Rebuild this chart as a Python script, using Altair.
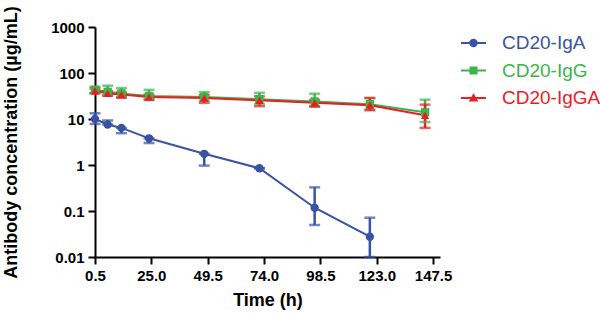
import altair as alt
import pandas as pd

series = ["CD20-IgA", "CD20-IgG", "CD20-IgGA"]
colors = ["#3953A4", "#3AB54A", "#ED1C24"]
marker_shapes = ["circle", "square", "triangle-up"]
legend_paths = [
    "M-2.5,-0.2H2.5V0.2H-2.5Z M0.85,0A0.85,0.85,0,1,1,-0.85,0A0.85,0.85,0,1,1,0.85,0Z",
    "M-2.5,-0.2H2.5V0.2H-2.5Z M-0.8,-0.8H0.8V0.8H-0.8Z",
    "M-2.5,-0.2H2.5V0.2H-2.5Z M0,-0.95L0.95,0.7H-0.95Z",
]

x_ticks = [0.5, 25.0, 49.5, 74.0, 98.5, 123.0, 147.5]
y_ticks = [0.01, 0.1, 1, 10, 100, 1000]

iga_time = [0.5, 6, 12, 24, 48, 72, 96, 120]
iga_mean = [10.0, 7.6, 6.4, 3.8, 1.75, 0.85, 0.118, 0.0276]
iga_lo = [7.8, 7.6, 4.9, 3.0, 0.97, 0.85, 0.0497, 0.01]
iga_hi = [13.3, 9.3, 6.4, 3.8, 1.75, 0.85, 0.327, 0.0715]

igg_time = [0.5, 6, 12, 24, 48, 72, 96, 120, 144]
igg_mean = [43, 39, 36, 31.5, 30, 27, 24, 21, 14]
igg_lo = [37, 33, 30, 27, 25, 21, 19, 16, 8.6]
igg_hi = [50, 53, 47, 43, 38.5, 37, 35.5, 28.6, 26.3]

iggA_time = [0.5, 6, 12, 24, 48, 72, 96, 120, 144]
iggA_mean = [41, 36, 34, 30, 28.5, 25.5, 22.5, 20, 12]
iggA_lo = [36, 32, 29, 26, 22.5, 19, 18.5, 15.5, 6.4]
iggA_hi = [46, 40, 38, 34, 33, 31, 26, 28.6, 20.5]

rows = []
for name, t, m, lo, hi in [
    (series[0], iga_time, iga_mean, iga_lo, iga_hi),
    (series[1], igg_time, igg_mean, igg_lo, igg_hi),
    (series[2], iggA_time, iggA_mean, iggA_lo, iggA_hi),
]:
    for i in range(len(t)):
        rows.append({"series": name, "time": t[i], "mean": m[i], "lo": lo[i], "hi": hi[i]})
df = pd.DataFrame(rows)

FONT = "Liberation Sans"

xenc = alt.X(
    "time:Q",
    scale=alt.Scale(domain=[0.5, 150.5], nice=False, zero=False),
    axis=alt.Axis(
        values=x_ticks, format=".1f", title="Time (h)", labelOverlap=False,
        labelFlush=False, labelPadding=4, titleX=172.5, titleY=43.5,
        titleAlign="center", titleBaseline="middle",
    ),
)
yscale = alt.Scale(type="log", domain=[0.01, 1000], nice=False)
yaxis = alt.Axis(
    values=y_ticks, format="~g", title="Antibody concentration (µg/mL)",
    labelOverlap=False, labelFlush=False, labelPadding=4, titleX=-84, titleY=115,
    titleAlign="center", titleBaseline="middle", titleAngle=270,
)


def Y(field):
    return alt.Y(field, scale=yscale, axis=yaxis)


cscale = alt.Scale(domain=series, range=colors)
col_nolegend = alt.Color("series:N", scale=cscale, legend=None)

base = alt.Chart(df)

lines = base.mark_line(strokeWidth=2).encode(x=xenc, y=Y("mean:Q"), color=col_nolegend)
rules = base.mark_rule(strokeWidth=2.5).encode(
    x=xenc, y=Y("lo:Q"), y2="hi:Q", color=col_nolegend
)
caps_lo = base.mark_tick(orient="horizontal", size=11, thickness=2.5).encode(
    x=xenc, y=Y("lo:Q"), color=col_nolegend
)
caps_hi = base.mark_tick(orient="horizontal", size=11, thickness=2.5).encode(
    x=xenc, y=Y("hi:Q"), color=col_nolegend
)
points = base.mark_point(filled=True, size=70, opacity=1).encode(
    x=xenc,
    y=Y("mean:Q"),
    color=col_nolegend,
    shape=alt.Shape("series:N", scale=alt.Scale(domain=series, range=marker_shapes), legend=None),
)

label_expr = ""
for s, c in zip(series[:-1], colors[:-1]):
    label_expr += f"datum.value === '{s}' ? '{c}' : "
label_expr += f"'{colors[-1]}'"

leg = alt.Legend(
    orient="none", legendX=369, legendY=6.5, title=None,
    labelFont=FONT, labelFontSize=19, labelColor=alt.ExprRef(label_expr),
    symbolSize=100, symbolStrokeWidth=0, symbolOpacity=1, labelOffset=19,
    rowPadding=7.5, padding=0, labelLimit=300,
)

legend_layer = base.transform_filter("false").mark_point(filled=True, size=100, opacity=1).encode(
    x=xenc,
    y=Y("mean:Q"),
    color=alt.Color("series:N", scale=cscale, legend=leg),
    shape=alt.Shape("series:N", scale=alt.Scale(domain=series, range=legend_paths), legend=leg),
)

chart = (
    alt.layer(lines, rules, caps_lo, caps_hi, points, legend_layer)
    .resolve_scale(color="independent", shape="independent")
    .properties(
        width=345,
        height=230,
        autosize=alt.AutoSizeParams(type="none"),
        padding={"left": 95, "top": 27, "right": 160, "bottom": 56},
        background="white",
    )
    .configure_view(stroke=None)
    .configure_axis(
        grid=False,
        domainColor="black", domainWidth=2,
        tickColor="black", tickWidth=2, tickSize=7,
        labelFont=FONT, labelFontWeight="bold", labelFontSize=15, labelColor="black",
        titleFont=FONT, titleFontWeight="bold", titleFontSize=18, titleColor="black",
    )
)

chart.save("out.html", embed_options={"renderer": "svg", "actions": False})
